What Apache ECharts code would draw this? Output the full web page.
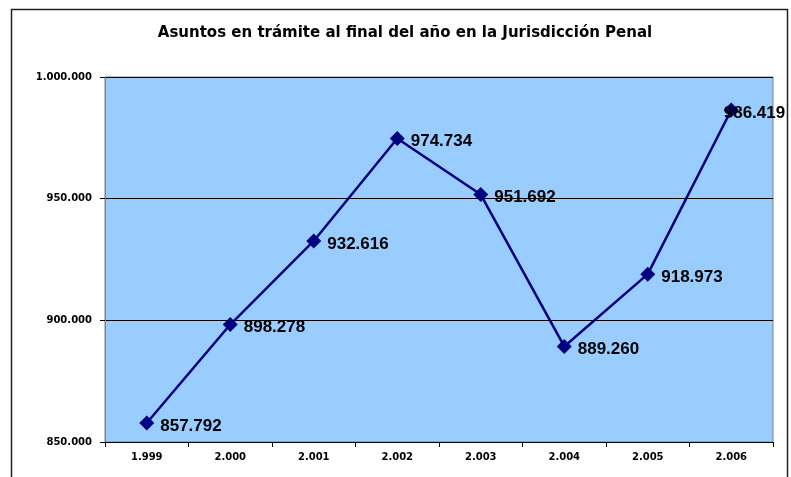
<!DOCTYPE html>
<html>
<head>
<meta charset="utf-8">
<script src="https://cdn.jsdelivr.net/npm/echarts@6/dist/echarts.min.js"></script>
<style>
  html, body { margin: 0; padding: 0; background: #fff; }
  #chart { width: 791px; height: 477px; }
</style>
</head>
<body>
<div id="chart"></div>
<script>
// años y asuntos en trámite
const years = ['1.999', '2.000', '2.001', '2.002', '2.003', '2.004', '2.005', '2.006'];
const asuntos = [857792, 898278, 932616, 974734, 951692, 889260, 918973, 986419];

const fmt = v => String(v).replace(/\B(?=(\d{3})+(?!\d))/g, '.');

// el último rótulo queda pegado al borde, se mete sobre el punto
const serieData = asuntos.map((v, i) => i === asuntos.length - 1
  ? { value: v, label: { distance: -15 } }
  : v);

const chart = echarts.init(document.getElementById('chart'));
chart.setOption({
  animation: false,
  title: {
    text: 'Asuntos en trámite al final del año en la Jurisdicción Penal',
    left: 400,
    textAlign: 'center',
    top: 21,
    textStyle: { fontFamily: 'DejaVu Sans', fontSize: 15, fontWeight: 'bold', color: '#000' },
  },
  graphic: [{
    type: 'rect',
    shape: { x: 11.5, y: 9.5, width: 776, height: 480 },
    style: { fill: 'none', stroke: '#222', lineWidth: 1.5 },
    z: 100,
  }],
  grid: {
    left: 105, right: 18, top: 77, bottom: 35,
    show: true,
    backgroundColor: '#99ccff',
    borderColor: '#808080',
    borderWidth: 1,
  },
  xAxis: {
    type: 'category',
    data: years,
    boundaryGap: true,
    axisLine: { lineStyle: { color: '#000', width: 1 } },
    axisTick: { show: true, length: 5, lineStyle: { color: '#000' } },
    axisLabel: {
      fontFamily: 'DejaVu Sans', fontSize: 10, fontWeight: 'bold', color: '#000',
      margin: 10,
    },
  },
  yAxis: {
    type: 'value',
    min: 850000, max: 1000000, interval: 50000,
    axisLine: { show: true, lineStyle: { color: '#808080' } },
    axisTick: { show: true, length: 5, lineStyle: { color: '#000' } },
    splitLine: { lineStyle: { color: '#000', width: 1 } },
    axisLabel: {
      formatter: fmt,
      fontFamily: 'DejaVu Sans', fontSize: 10, fontWeight: 'bold', color: '#000',
      margin: 13,
    },
  },
  series: [{
    type: 'line',
    data: serieData,
    symbol: 'diamond',
    symbolSize: 15,
    itemStyle: { color: '#000080' },
    lineStyle: { color: '#000080', width: 2.5 },
    label: {
      show: true,
      position: 'right',
      distance: 6,
      offset: [0, 3],
      formatter: p => fmt(p.value),
      fontFamily: 'Arial, Liberation Sans', fontSize: 17, fontWeight: 'bold', color: '#000',
    },
  }],
});
</script>
</body>
</html>
